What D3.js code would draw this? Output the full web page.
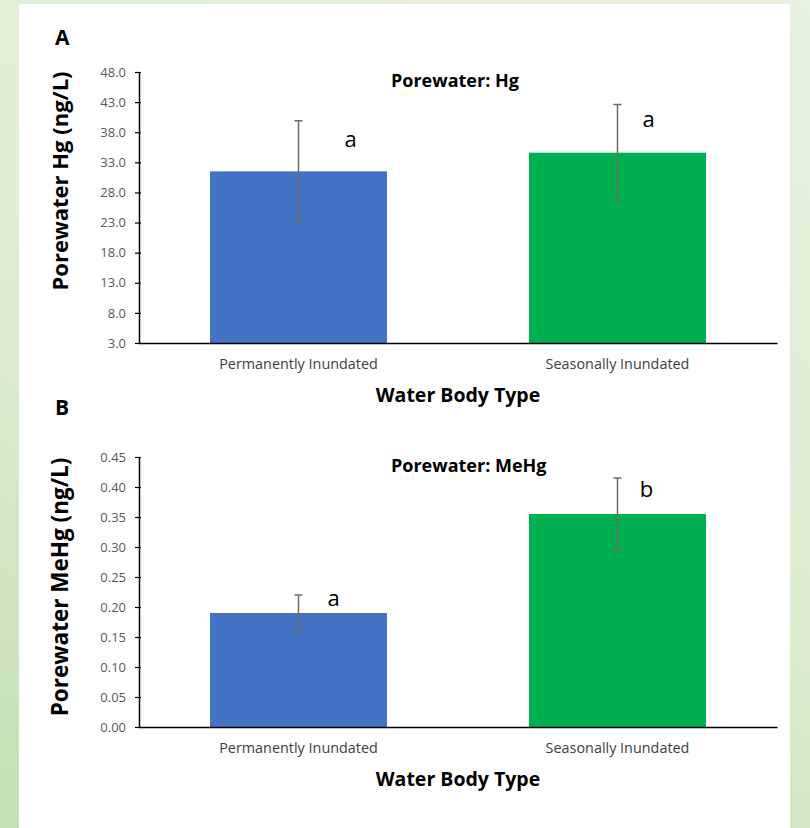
<!DOCTYPE html>
<html>
<head>
<meta charset="utf-8">
<script src="https://cdn.jsdelivr.net/npm/d3@7"></script>
<style>
  html, body { margin: 0; padding: 0; }
  body { width: 810px; height: 828px; background: linear-gradient(200deg, #e6f1de 0%, #dcecd2 55%, #c4dfb2 100%); }
  svg { display: block; }
</style>
</head>
<body>
<div id="chart"></div>
<script>
// data
const categories = ['Permanently Inundated', 'Seasonally Inundated'];
const barColors = ['#4472c4', '#00b050'];

const hgMeans = [31.5, 34.6];
const hgErrors = [8.4, 8.0];
const hgLetters = ['a', 'a'];
const hgLetterY = [35.5, 38.8];
const hgLetterDx = [52, 31];
const hgTicks = [3.0, 8.0, 13.0, 18.0, 23.0, 28.0, 33.0, 38.0, 43.0, 48.0];

const mehgMeans = [0.19, 0.355];
const mehgErrors = [0.03, 0.06];
const mehgLetters = ['a', 'b'];
const mehgLetterY = [0.201, 0.383];
const mehgLetterDx = [35, 29];
const mehgTicks = [0.00, 0.05, 0.10, 0.15, 0.20, 0.25, 0.30, 0.35, 0.40, 0.45];

const W = 810, H = 828;
const svg = d3.select('#chart').append('svg').attr('width', W).attr('height', H);

// white panel
svg.append('rect').attr('x', 19).attr('y', 4).attr('width', 771).attr('height', H - 4).attr('fill', '#fff');

const font = "'Open Sans', sans-serif";

function drawPanel(cfg) {
  const x = d3.scaleBand().domain(categories).range([cfg.left, cfg.right])
    .paddingInner(0.445).paddingOuter(0.2225);
  const y = d3.scaleLinear().domain(cfg.domain).range([cfg.bottom, cfg.top]);
  const g = svg.append('g');

  // panel letter
  g.append('text').attr('x', 55).attr('y', cfg.top + cfg.panelDy)
    .text(cfg.panel).style('font-family', font).style('font-weight', 'bold')
    .style('font-size', '21px').attr('fill', '#000');

  // bars
  g.selectAll('.bar').data(cfg.means).enter().append('rect')
    .attr('x', (d, i) => x(categories[i]))
    .attr('y', d => y(d))
    .attr('width', x.bandwidth())
    .attr('height', d => y(cfg.domain[0]) - y(d))
    .attr('fill', (d, i) => barColors[i]);

  // error bars
  const err = g.selectAll('.err').data(cfg.means).enter().append('g')
    .attr('stroke', '#6b6b6b').attr('stroke-width', 1.5);
  err.append('line')
    .attr('x1', (d, i) => x(categories[i]) + x.bandwidth() / 2)
    .attr('x2', (d, i) => x(categories[i]) + x.bandwidth() / 2)
    .attr('y1', (d, i) => y(d + cfg.errors[i]))
    .attr('y2', (d, i) => y(d - cfg.errors[i]));
  [1, -1].forEach(s => {
    err.append('line')
      .attr('x1', (d, i) => x(categories[i]) + x.bandwidth() / 2 - 4)
      .attr('x2', (d, i) => x(categories[i]) + x.bandwidth() / 2 + 4)
      .attr('y1', (d, i) => y(d + s * cfg.errors[i]))
      .attr('y2', (d, i) => y(d + s * cfg.errors[i]));
  });

  // significance letters
  g.selectAll('.letter').data(cfg.letters).enter().append('text')
    .attr('x', (d, i) => x(categories[i]) + x.bandwidth() / 2 + cfg.letterDx[i])
    .attr('y', (d, i) => y(cfg.letterY[i]))
    .attr('text-anchor', 'middle')
    .style('font-family', font).style('font-size', '22px')
    .text(d => d);

  // y axis
  const yAxis = d3.axisLeft(y).tickValues(cfg.ticks).tickFormat(cfg.fmt)
    .tickSizeInner(4).tickSizeOuter(0).tickPadding(9);
  const ya = g.append('g').attr('transform', `translate(${cfg.left},0)`).call(yAxis);
  ya.select('.domain').attr('stroke', '#000').attr('stroke-width', 1.5);
  ya.selectAll('.tick line').attr('stroke', '#000').attr('x2', -4).attr('x1', 2).attr('stroke-width', 1.2);
  ya.selectAll('.tick text').style('font-family', font).style('font-size', '13px').attr('fill', '#595959');

  // x axis
  const xAxis = d3.axisBottom(x).tickSize(0).tickPadding(16);
  const xa = g.append('g').attr('transform', `translate(0,${cfg.bottom})`).call(xAxis);
  xa.select('.domain').attr('stroke', '#000').attr('stroke-width', 1.5);
  xa.selectAll('.tick text').style('font-family', font).style('font-size', '14.4px').attr('fill', '#404040');

  // titles
  g.append('text').attr('x', 391).attr('y', cfg.top + 15)
    .text(cfg.title).style('font-family', font).style('font-weight', 'bold')
    .style('font-size', '18px');
  g.append('text').attr('x', (cfg.left + cfg.right) / 2).attr('y', cfg.bottom + 59)
    .attr('text-anchor', 'middle').text('Water Body Type')
    .style('font-family', font).style('font-weight', 'bold').style('font-size', '19.5px');
  g.append('text')
    .attr('transform', `translate(68,${cfg.labelCy}) rotate(-90)`)
    .attr('text-anchor', 'middle').text(cfg.yLabel)
    .style('font-family', font).style('font-weight', 'bold').style('font-size', cfg.labelSize);
}

drawPanel({
  panel: 'A', panelDy: -27, title: 'Porewater: Hg', yLabel: 'Porewater Hg (ng/L)',
  labelCy: 181, labelSize: '22px',
  left: 139, right: 777, top: 72, bottom: 343, domain: [3, 48],
  means: hgMeans, errors: hgErrors, letters: hgLetters, letterY: hgLetterY, letterDx: hgLetterDx,
  ticks: hgTicks, fmt: d3.format('.1f')
});
drawPanel({
  panel: 'B', panelDy: -42, title: 'Porewater: MeHg', yLabel: 'Porewater MeHg (ng/L)',
  labelCy: 587, labelSize: '22.5px',
  left: 139, right: 777, top: 457, bottom: 727, domain: [0, 0.45],
  means: mehgMeans, errors: mehgErrors, letters: mehgLetters, letterY: mehgLetterY, letterDx: mehgLetterDx,
  ticks: mehgTicks, fmt: d3.format('.2f')
});
</script>
</body>
</html>
